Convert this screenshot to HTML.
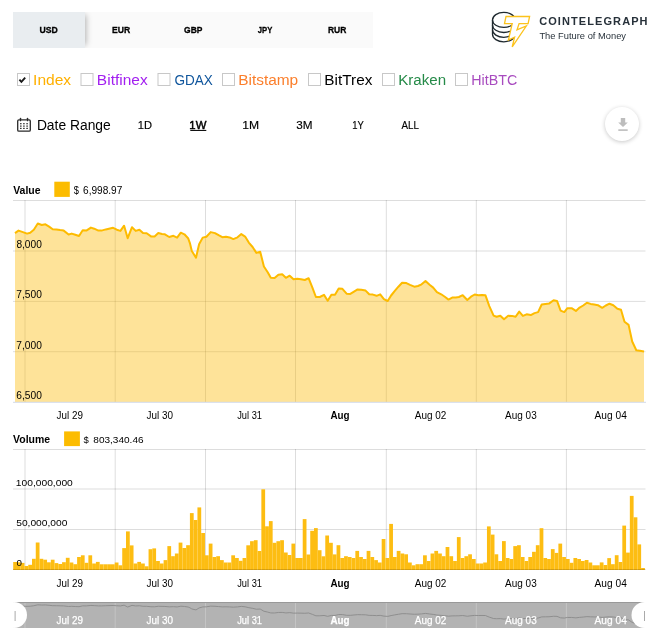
<!DOCTYPE html><html><head><meta charset="utf-8"><style>
html,body{margin:0;padding:0;background:#fff;}
body{width:655px;height:636px;position:relative;overflow:hidden;font-family:"Liberation Sans", sans-serif;}
.abs{position:absolute;}
</style></head><body>
<div class="abs" style="left:13px;top:12px;width:360px;height:36px;background:#fafafa;"></div>
<div class="abs" style="left:13px;top:12px;width:100px;height:36px;overflow:hidden;"><div class="abs" style="left:0;top:0;width:72px;height:36px;background:#e9edf0;box-shadow:4px 0 6px -3px rgba(0,0,0,0.3);"></div></div>
<div class="abs" style="left:605.3px;top:107.4px;width:33.8px;height:33.8px;border-radius:50%;background:#fff;box-shadow:0 1px 4px rgba(0,0,0,0.22);"></div>
<svg class="abs" style="left:0;top:0" width="655" height="636" viewBox="0 0 655 636" font-family='"Liberation Sans", sans-serif'>
<g fill="none" stroke="#1f292f" stroke-width="1.3">
<ellipse cx="503.8" cy="19.9" rx="11.3" ry="7.5"/>
<path d="M492.5 19.9V34.3A11.3 7.5 0 0 0 515.1 34.3V19.9"/>
<path d="M492.5 25.0A11.3 7.5 0 0 0 515.1 25.0"/>
<path d="M492.5 29.8A11.3 7.5 0 0 0 515.1 29.8"/>
</g>
<path d="M506 16.5L529.6 16.5L528.1 23.6L519.1 23.6L517 29.9L526.3 26L512.2 46.9L514.6 37.1L508.4 40.1L512.2 23.6L504.5 23.6Z" fill="#fff" stroke="#fcc21b" stroke-width="1.3" stroke-linejoin="miter"/>
<rect x="17.5" y="73.5" width="12" height="12" fill="#fff" stroke="#c8c8c8" stroke-width="1"/>
<rect x="81.0" y="73.5" width="12" height="12" fill="#fff" stroke="#c8c8c8" stroke-width="1"/>
<rect x="158.0" y="73.5" width="12" height="12" fill="#fff" stroke="#c8c8c8" stroke-width="1"/>
<rect x="222.5" y="73.5" width="12" height="12" fill="#fff" stroke="#c8c8c8" stroke-width="1"/>
<rect x="308.5" y="73.5" width="12" height="12" fill="#fff" stroke="#c8c8c8" stroke-width="1"/>
<rect x="382.5" y="73.5" width="12" height="12" fill="#fff" stroke="#c8c8c8" stroke-width="1"/>
<rect x="455.5" y="73.5" width="12" height="12" fill="#fff" stroke="#c8c8c8" stroke-width="1"/>
<path d="M19.4 79.7 L21.4 81.8 L25.2 77.7" fill="none" stroke="#1a1a1a" stroke-width="1.9"/>
<rect x="190.3" y="129.9" width="16" height="1.1" fill="#111"/>
<rect x="17.7" y="119.8" width="12.6" height="11.4" rx="1.2" fill="none" stroke="#2a2a2a" stroke-width="1.3"/>
<rect x="19.9" y="117.7" width="1.2" height="3.6" rx="0.5" fill="#2a2a2a"/><rect x="26.9" y="117.7" width="1.2" height="3.6" rx="0.5" fill="#2a2a2a"/>
<rect x="20.0" y="123.1" width="1.6" height="1.2" fill="#333"/>
<rect x="20.0" y="125.5" width="1.6" height="1.2" fill="#333"/>
<rect x="20.0" y="127.8" width="1.6" height="1.2" fill="#333"/>
<rect x="23.1" y="123.1" width="1.6" height="1.2" fill="#333"/>
<rect x="23.1" y="125.5" width="1.6" height="1.2" fill="#333"/>
<rect x="23.1" y="127.8" width="1.6" height="1.2" fill="#333"/>
<rect x="26.3" y="123.1" width="1.6" height="1.2" fill="#333"/>
<rect x="26.3" y="125.5" width="1.6" height="1.2" fill="#333"/>
<rect x="26.3" y="127.8" width="1.6" height="1.2" fill="#333"/>
<path d="M620.8 117.9 h4.4 v4.6 h2.6 l-4.8 4.6 l-4.8 -4.6 h2.6 z" fill="#bdbdbd"/><rect x="618.3" y="129.3" width="9.4" height="1.6" fill="#bdbdbd"/>
<rect x="54.3" y="181.7" width="15.5" height="15.2" fill="#fcbc00"/>
<rect x="64.1" y="431.4" width="15.8" height="14.7" fill="#fcbc00"/>
<line x1="13" y1="200.5" x2="645.5" y2="200.5" stroke="rgba(0,0,0,0.135)" stroke-width="1"/>
<line x1="13" y1="251" x2="645.5" y2="251" stroke="rgba(0,0,0,0.135)" stroke-width="1"/>
<line x1="13" y1="301.4" x2="645.5" y2="301.4" stroke="rgba(0,0,0,0.135)" stroke-width="1"/>
<line x1="13" y1="351.7" x2="645.5" y2="351.7" stroke="rgba(0,0,0,0.135)" stroke-width="1"/>
<line x1="25.0" y1="200" x2="25.0" y2="402" stroke="rgba(0,0,0,0.135)" stroke-width="1"/>
<line x1="115.2" y1="200" x2="115.2" y2="402" stroke="rgba(0,0,0,0.135)" stroke-width="1"/>
<line x1="205.5" y1="200" x2="205.5" y2="402" stroke="rgba(0,0,0,0.135)" stroke-width="1"/>
<line x1="295.5" y1="200" x2="295.5" y2="402" stroke="rgba(0,0,0,0.135)" stroke-width="1"/>
<line x1="386.3" y1="200" x2="386.3" y2="402" stroke="rgba(0,0,0,0.135)" stroke-width="1"/>
<line x1="476.3" y1="200" x2="476.3" y2="402" stroke="rgba(0,0,0,0.135)" stroke-width="1"/>
<line x1="566.4" y1="200" x2="566.4" y2="402" stroke="rgba(0,0,0,0.135)" stroke-width="1"/>
<polygon points="15,402 15.0,233.1 18.5,230.6 22.2,231.9 27.1,233.6 30.2,232.7 33.8,229.7 37.8,223.5 41.8,225.0 45.4,224.3 49.1,226.6 52.7,229.3 56.4,229.4 60.1,230.1 63.7,230.6 68.6,234.5 71.7,233.6 75.3,234.8 79.0,236.0 82.7,230.3 86.3,230.6 90.9,227.6 94.2,228.7 98.4,230.6 101.5,230.6 105.8,229.4 113.1,227.8 116.8,229.7 120.4,230.9 124.1,225.7 127.7,238.2 132.0,227.2 135.7,230.9 139.4,229.7 143.0,233.1 146.7,233.3 151.0,236.4 154.6,236.6 158.3,233.1 162.0,233.9 164.9,234.3 169.2,237.0 173.4,235.8 177.1,237.6 180.8,232.7 184.4,234.3 188.1,238.2 189.9,243.1 191.8,251.0 196.0,257.7 199.1,244.3 202.7,237.6 206.4,236.7 210.7,232.1 215.0,233.1 218.6,235.2 222.3,237.2 226.0,236.7 229.6,237.4 233.3,239.1 237.5,237.3 241.3,234.1 245.1,236.6 248.8,242.6 252.6,247.0 256.4,252.9 260.2,251.7 263.9,266.5 267.7,272.2 270.8,277.8 274.6,278.1 278.4,274.7 282.2,274.3 285.9,277.8 289.7,275.7 293.5,279.3 297.3,278.8 301.0,279.3 304.8,280.0 308.6,278.2 312.4,287.6 315.9,297.0 319.8,297.0 324.0,294.9 327.7,300.7 331.4,294.7 335.0,294.7 338.7,288.5 342.4,288.8 346.6,293.7 350.3,293.9 354.0,291.6 357.6,289.4 361.3,289.8 365.6,290.6 369.2,294.3 372.9,294.6 376.6,295.8 380.2,294.3 383.9,299.2 387.7,301.0 391.1,295.5 394.8,290.9 398.4,286.7 402.1,282.7 406.4,283.1 410.0,284.9 414.3,286.7 418.0,286.0 421.6,284.3 425.5,281.1 429.6,284.8 433.2,287.6 436.9,292.1 441.2,294.3 444.8,296.8 448.5,299.6 452.2,297.6 455.8,297.4 458.9,297.0 462.7,295.2 467.3,300.0 471.0,296.7 474.7,294.5 478.3,295.2 482.0,294.9 485.4,295.2 489.3,306.1 493.6,315.6 496.6,316.8 500.3,315.7 504.0,319.2 508.2,315.7 511.9,315.9 515.6,316.8 519.2,311.6 522.9,315.9 526.6,314.3 530.8,315.1 534.5,313.1 538.1,312.1 541.7,304.5 545.4,303.9 549.0,303.6 553.6,300.3 557.0,300.9 560.6,310.6 564.3,312.1 567.4,308.2 571.6,308.2 575.9,310.9 579.6,307.6 583.2,305.5 586.9,302.7 590.6,303.9 594.2,304.5 597.9,305.2 602.2,307.8 605.8,305.5 609.5,303.7 613.3,305.2 617.4,308.8 621.0,309.8 624.5,321.8 628.6,324.9 632.2,341.5 636.3,350.2 639.9,350.7 644.0,351.5 644,402" fill="rgba(252,185,0,0.4)"/>
<polyline points="15.0,233.1 18.5,230.6 22.2,231.9 27.1,233.6 30.2,232.7 33.8,229.7 37.8,223.5 41.8,225.0 45.4,224.3 49.1,226.6 52.7,229.3 56.4,229.4 60.1,230.1 63.7,230.6 68.6,234.5 71.7,233.6 75.3,234.8 79.0,236.0 82.7,230.3 86.3,230.6 90.9,227.6 94.2,228.7 98.4,230.6 101.5,230.6 105.8,229.4 113.1,227.8 116.8,229.7 120.4,230.9 124.1,225.7 127.7,238.2 132.0,227.2 135.7,230.9 139.4,229.7 143.0,233.1 146.7,233.3 151.0,236.4 154.6,236.6 158.3,233.1 162.0,233.9 164.9,234.3 169.2,237.0 173.4,235.8 177.1,237.6 180.8,232.7 184.4,234.3 188.1,238.2 189.9,243.1 191.8,251.0 196.0,257.7 199.1,244.3 202.7,237.6 206.4,236.7 210.7,232.1 215.0,233.1 218.6,235.2 222.3,237.2 226.0,236.7 229.6,237.4 233.3,239.1 237.5,237.3 241.3,234.1 245.1,236.6 248.8,242.6 252.6,247.0 256.4,252.9 260.2,251.7 263.9,266.5 267.7,272.2 270.8,277.8 274.6,278.1 278.4,274.7 282.2,274.3 285.9,277.8 289.7,275.7 293.5,279.3 297.3,278.8 301.0,279.3 304.8,280.0 308.6,278.2 312.4,287.6 315.9,297.0 319.8,297.0 324.0,294.9 327.7,300.7 331.4,294.7 335.0,294.7 338.7,288.5 342.4,288.8 346.6,293.7 350.3,293.9 354.0,291.6 357.6,289.4 361.3,289.8 365.6,290.6 369.2,294.3 372.9,294.6 376.6,295.8 380.2,294.3 383.9,299.2 387.7,301.0 391.1,295.5 394.8,290.9 398.4,286.7 402.1,282.7 406.4,283.1 410.0,284.9 414.3,286.7 418.0,286.0 421.6,284.3 425.5,281.1 429.6,284.8 433.2,287.6 436.9,292.1 441.2,294.3 444.8,296.8 448.5,299.6 452.2,297.6 455.8,297.4 458.9,297.0 462.7,295.2 467.3,300.0 471.0,296.7 474.7,294.5 478.3,295.2 482.0,294.9 485.4,295.2 489.3,306.1 493.6,315.6 496.6,316.8 500.3,315.7 504.0,319.2 508.2,315.7 511.9,315.9 515.6,316.8 519.2,311.6 522.9,315.9 526.6,314.3 530.8,315.1 534.5,313.1 538.1,312.1 541.7,304.5 545.4,303.9 549.0,303.6 553.6,300.3 557.0,300.9 560.6,310.6 564.3,312.1 567.4,308.2 571.6,308.2 575.9,310.9 579.6,307.6 583.2,305.5 586.9,302.7 590.6,303.9 594.2,304.5 597.9,305.2 602.2,307.8 605.8,305.5 609.5,303.7 613.3,305.2 617.4,308.8 621.0,309.8 624.5,321.8 628.6,324.9 632.2,341.5 636.3,350.2 639.9,350.7 644.0,351.5" fill="none" stroke="#fdbb00" stroke-width="2" stroke-linejoin="round"/>
<line x1="13" y1="402.3" x2="646" y2="402.3" stroke="#d3dae8" stroke-width="1"/>
<line x1="13" y1="449.5" x2="645.5" y2="449.5" stroke="rgba(0,0,0,0.135)" stroke-width="1"/>
<line x1="13" y1="489.0" x2="645.5" y2="489.0" stroke="rgba(0,0,0,0.135)" stroke-width="1"/>
<line x1="13" y1="529.5" x2="645.5" y2="529.5" stroke="rgba(0,0,0,0.135)" stroke-width="1"/>
<line x1="25.0" y1="449" x2="25.0" y2="569" stroke="rgba(0,0,0,0.135)" stroke-width="1"/>
<line x1="115.2" y1="449" x2="115.2" y2="569" stroke="rgba(0,0,0,0.135)" stroke-width="1"/>
<line x1="205.5" y1="449" x2="205.5" y2="569" stroke="rgba(0,0,0,0.135)" stroke-width="1"/>
<line x1="295.5" y1="449" x2="295.5" y2="569" stroke="rgba(0,0,0,0.135)" stroke-width="1"/>
<line x1="386.3" y1="449" x2="386.3" y2="569" stroke="rgba(0,0,0,0.135)" stroke-width="1"/>
<line x1="476.3" y1="449" x2="476.3" y2="569" stroke="rgba(0,0,0,0.135)" stroke-width="1"/>
<line x1="566.4" y1="449" x2="566.4" y2="569" stroke="rgba(0,0,0,0.135)" stroke-width="1"/>
<rect x="13.20" y="562.0" width="3.76" height="8.0" fill="#fdbd12"/>
<rect x="16.96" y="562.3" width="3.76" height="7.7" fill="#fdbd12"/>
<rect x="20.72" y="562.9" width="3.76" height="7.1" fill="#fdbd12"/>
<rect x="24.48" y="566.0" width="3.76" height="4.0" fill="#fdbd12"/>
<rect x="28.24" y="564.8" width="3.76" height="5.2" fill="#fdbd12"/>
<rect x="32.00" y="558.8" width="3.76" height="11.2" fill="#fdbd12"/>
<rect x="35.76" y="542.5" width="3.76" height="27.5" fill="#fdbd12"/>
<rect x="39.52" y="558.8" width="3.76" height="11.2" fill="#fdbd12"/>
<rect x="43.28" y="559.7" width="3.76" height="10.3" fill="#fdbd12"/>
<rect x="47.04" y="562.3" width="3.76" height="7.7" fill="#fdbd12"/>
<rect x="50.80" y="559.7" width="3.76" height="10.3" fill="#fdbd12"/>
<rect x="54.56" y="563.1" width="3.76" height="6.9" fill="#fdbd12"/>
<rect x="58.32" y="564.0" width="3.76" height="6.0" fill="#fdbd12"/>
<rect x="62.08" y="562.2" width="3.76" height="7.8" fill="#fdbd12"/>
<rect x="65.84" y="557.8" width="3.76" height="12.2" fill="#fdbd12"/>
<rect x="69.60" y="562.5" width="3.76" height="7.5" fill="#fdbd12"/>
<rect x="73.36" y="564.2" width="3.76" height="5.8" fill="#fdbd12"/>
<rect x="77.12" y="557.0" width="3.76" height="13.0" fill="#fdbd12"/>
<rect x="80.88" y="555.3" width="3.76" height="14.7" fill="#fdbd12"/>
<rect x="84.64" y="562.8" width="3.76" height="7.2" fill="#fdbd12"/>
<rect x="88.40" y="555.3" width="3.76" height="14.7" fill="#fdbd12"/>
<rect x="92.16" y="563.5" width="3.76" height="6.5" fill="#fdbd12"/>
<rect x="95.92" y="561.9" width="3.76" height="8.1" fill="#fdbd12"/>
<rect x="99.68" y="564.3" width="3.76" height="5.7" fill="#fdbd12"/>
<rect x="103.44" y="564.3" width="3.76" height="5.7" fill="#fdbd12"/>
<rect x="107.20" y="564.3" width="3.76" height="5.7" fill="#fdbd12"/>
<rect x="110.96" y="564.3" width="3.76" height="5.7" fill="#fdbd12"/>
<rect x="114.72" y="562.5" width="3.76" height="7.5" fill="#fdbd12"/>
<rect x="118.48" y="565.3" width="3.76" height="4.7" fill="#fdbd12"/>
<rect x="122.24" y="548.1" width="3.76" height="21.9" fill="#fdbd12"/>
<rect x="126.00" y="531.4" width="3.76" height="38.6" fill="#fdbd12"/>
<rect x="129.76" y="545.4" width="3.76" height="24.6" fill="#fdbd12"/>
<rect x="133.52" y="563.5" width="3.76" height="6.5" fill="#fdbd12"/>
<rect x="137.28" y="561.9" width="3.76" height="8.1" fill="#fdbd12"/>
<rect x="141.04" y="563.5" width="3.76" height="6.5" fill="#fdbd12"/>
<rect x="144.80" y="566.3" width="3.76" height="3.7" fill="#fdbd12"/>
<rect x="148.56" y="549.2" width="3.76" height="20.8" fill="#fdbd12"/>
<rect x="152.32" y="548.4" width="3.76" height="21.6" fill="#fdbd12"/>
<rect x="156.08" y="561.0" width="3.76" height="9.0" fill="#fdbd12"/>
<rect x="159.84" y="563.5" width="3.76" height="6.5" fill="#fdbd12"/>
<rect x="163.60" y="560.1" width="3.76" height="9.9" fill="#fdbd12"/>
<rect x="167.36" y="546.1" width="3.76" height="23.9" fill="#fdbd12"/>
<rect x="171.12" y="556.2" width="3.76" height="13.8" fill="#fdbd12"/>
<rect x="174.88" y="553.5" width="3.76" height="16.5" fill="#fdbd12"/>
<rect x="178.64" y="542.6" width="3.76" height="27.4" fill="#fdbd12"/>
<rect x="182.40" y="548.0" width="3.76" height="22.0" fill="#fdbd12"/>
<rect x="186.16" y="545.2" width="3.76" height="24.8" fill="#fdbd12"/>
<rect x="189.92" y="513.1" width="3.76" height="56.9" fill="#fdbd12"/>
<rect x="193.68" y="520.0" width="3.76" height="50.0" fill="#fdbd12"/>
<rect x="197.44" y="507.4" width="3.76" height="62.6" fill="#fdbd12"/>
<rect x="201.20" y="533.0" width="3.76" height="37.0" fill="#fdbd12"/>
<rect x="204.96" y="555.3" width="3.76" height="14.7" fill="#fdbd12"/>
<rect x="208.72" y="543.6" width="3.76" height="26.4" fill="#fdbd12"/>
<rect x="212.48" y="557.0" width="3.76" height="13.0" fill="#fdbd12"/>
<rect x="216.24" y="556.2" width="3.76" height="13.8" fill="#fdbd12"/>
<rect x="220.00" y="560.1" width="3.76" height="9.9" fill="#fdbd12"/>
<rect x="223.76" y="562.5" width="3.76" height="7.5" fill="#fdbd12"/>
<rect x="227.52" y="562.5" width="3.76" height="7.5" fill="#fdbd12"/>
<rect x="231.28" y="555.3" width="3.76" height="14.7" fill="#fdbd12"/>
<rect x="235.04" y="558.0" width="3.76" height="12.0" fill="#fdbd12"/>
<rect x="238.80" y="560.8" width="3.76" height="9.2" fill="#fdbd12"/>
<rect x="242.56" y="558.0" width="3.76" height="12.0" fill="#fdbd12"/>
<rect x="246.32" y="545.3" width="3.76" height="24.7" fill="#fdbd12"/>
<rect x="250.08" y="541.2" width="3.76" height="28.8" fill="#fdbd12"/>
<rect x="253.84" y="540.2" width="3.76" height="29.8" fill="#fdbd12"/>
<rect x="257.60" y="551.0" width="3.76" height="19.0" fill="#fdbd12"/>
<rect x="261.36" y="489.3" width="3.76" height="80.7" fill="#fdbd12"/>
<rect x="265.12" y="526.3" width="3.76" height="43.7" fill="#fdbd12"/>
<rect x="268.88" y="521.1" width="3.76" height="48.9" fill="#fdbd12"/>
<rect x="272.64" y="542.8" width="3.76" height="27.2" fill="#fdbd12"/>
<rect x="276.40" y="541.2" width="3.76" height="28.8" fill="#fdbd12"/>
<rect x="280.16" y="540.2" width="3.76" height="29.8" fill="#fdbd12"/>
<rect x="283.92" y="552.5" width="3.76" height="17.5" fill="#fdbd12"/>
<rect x="287.68" y="555.0" width="3.76" height="15.0" fill="#fdbd12"/>
<rect x="291.44" y="543.6" width="3.76" height="26.4" fill="#fdbd12"/>
<rect x="295.20" y="558.0" width="3.76" height="12.0" fill="#fdbd12"/>
<rect x="298.96" y="558.0" width="3.76" height="12.0" fill="#fdbd12"/>
<rect x="302.72" y="519.1" width="3.76" height="50.9" fill="#fdbd12"/>
<rect x="306.48" y="554.5" width="3.76" height="15.5" fill="#fdbd12"/>
<rect x="310.24" y="530.8" width="3.76" height="39.2" fill="#fdbd12"/>
<rect x="314.00" y="528.1" width="3.76" height="41.9" fill="#fdbd12"/>
<rect x="317.76" y="550.2" width="3.76" height="19.8" fill="#fdbd12"/>
<rect x="321.52" y="556.3" width="3.76" height="13.7" fill="#fdbd12"/>
<rect x="325.28" y="535.5" width="3.76" height="34.5" fill="#fdbd12"/>
<rect x="329.04" y="542.8" width="3.76" height="27.2" fill="#fdbd12"/>
<rect x="332.80" y="554.4" width="3.76" height="15.6" fill="#fdbd12"/>
<rect x="336.56" y="545.2" width="3.76" height="24.8" fill="#fdbd12"/>
<rect x="340.32" y="558.0" width="3.76" height="12.0" fill="#fdbd12"/>
<rect x="344.08" y="556.2" width="3.76" height="13.8" fill="#fdbd12"/>
<rect x="347.84" y="557.0" width="3.76" height="13.0" fill="#fdbd12"/>
<rect x="351.60" y="558.0" width="3.76" height="12.0" fill="#fdbd12"/>
<rect x="355.36" y="550.9" width="3.76" height="19.1" fill="#fdbd12"/>
<rect x="359.12" y="557.0" width="3.76" height="13.0" fill="#fdbd12"/>
<rect x="362.88" y="559.0" width="3.76" height="11.0" fill="#fdbd12"/>
<rect x="366.64" y="550.9" width="3.76" height="19.1" fill="#fdbd12"/>
<rect x="370.40" y="557.0" width="3.76" height="13.0" fill="#fdbd12"/>
<rect x="374.16" y="560.1" width="3.76" height="9.9" fill="#fdbd12"/>
<rect x="377.92" y="562.5" width="3.76" height="7.5" fill="#fdbd12"/>
<rect x="381.68" y="539.0" width="3.76" height="31.0" fill="#fdbd12"/>
<rect x="385.44" y="558.0" width="3.76" height="12.0" fill="#fdbd12"/>
<rect x="389.20" y="523.9" width="3.76" height="46.1" fill="#fdbd12"/>
<rect x="392.96" y="557.0" width="3.76" height="13.0" fill="#fdbd12"/>
<rect x="396.72" y="550.9" width="3.76" height="19.1" fill="#fdbd12"/>
<rect x="400.48" y="553.5" width="3.76" height="16.5" fill="#fdbd12"/>
<rect x="404.24" y="554.3" width="3.76" height="15.7" fill="#fdbd12"/>
<rect x="408.00" y="562.5" width="3.76" height="7.5" fill="#fdbd12"/>
<rect x="411.76" y="565.3" width="3.76" height="4.7" fill="#fdbd12"/>
<rect x="415.52" y="564.2" width="3.76" height="5.8" fill="#fdbd12"/>
<rect x="419.28" y="564.2" width="3.76" height="5.8" fill="#fdbd12"/>
<rect x="423.04" y="555.3" width="3.76" height="14.7" fill="#fdbd12"/>
<rect x="426.80" y="561.0" width="3.76" height="9.0" fill="#fdbd12"/>
<rect x="430.56" y="553.5" width="3.76" height="16.5" fill="#fdbd12"/>
<rect x="434.32" y="550.9" width="3.76" height="19.1" fill="#fdbd12"/>
<rect x="438.08" y="553.5" width="3.76" height="16.5" fill="#fdbd12"/>
<rect x="441.84" y="556.2" width="3.76" height="13.8" fill="#fdbd12"/>
<rect x="445.60" y="547.0" width="3.76" height="23.0" fill="#fdbd12"/>
<rect x="449.36" y="556.2" width="3.76" height="13.8" fill="#fdbd12"/>
<rect x="453.12" y="561.0" width="3.76" height="9.0" fill="#fdbd12"/>
<rect x="456.88" y="537.1" width="3.76" height="32.9" fill="#fdbd12"/>
<rect x="460.64" y="558.0" width="3.76" height="12.0" fill="#fdbd12"/>
<rect x="464.40" y="556.2" width="3.76" height="13.8" fill="#fdbd12"/>
<rect x="468.16" y="554.3" width="3.76" height="15.7" fill="#fdbd12"/>
<rect x="471.92" y="559.0" width="3.76" height="11.0" fill="#fdbd12"/>
<rect x="475.68" y="563.5" width="3.76" height="6.5" fill="#fdbd12"/>
<rect x="479.44" y="563.5" width="3.76" height="6.5" fill="#fdbd12"/>
<rect x="483.20" y="562.5" width="3.76" height="7.5" fill="#fdbd12"/>
<rect x="486.96" y="526.4" width="3.76" height="43.6" fill="#fdbd12"/>
<rect x="490.72" y="534.6" width="3.76" height="35.4" fill="#fdbd12"/>
<rect x="494.48" y="554.3" width="3.76" height="15.7" fill="#fdbd12"/>
<rect x="498.24" y="561.0" width="3.76" height="9.0" fill="#fdbd12"/>
<rect x="502.00" y="541.1" width="3.76" height="28.9" fill="#fdbd12"/>
<rect x="505.76" y="558.0" width="3.76" height="12.0" fill="#fdbd12"/>
<rect x="509.52" y="559.0" width="3.76" height="11.0" fill="#fdbd12"/>
<rect x="513.28" y="546.1" width="3.76" height="23.9" fill="#fdbd12"/>
<rect x="517.04" y="545.2" width="3.76" height="24.8" fill="#fdbd12"/>
<rect x="520.80" y="557.0" width="3.76" height="13.0" fill="#fdbd12"/>
<rect x="524.56" y="561.0" width="3.76" height="9.0" fill="#fdbd12"/>
<rect x="528.32" y="557.0" width="3.76" height="13.0" fill="#fdbd12"/>
<rect x="532.08" y="551.8" width="3.76" height="18.2" fill="#fdbd12"/>
<rect x="535.84" y="545.2" width="3.76" height="24.8" fill="#fdbd12"/>
<rect x="539.60" y="528.2" width="3.76" height="41.8" fill="#fdbd12"/>
<rect x="543.36" y="558.0" width="3.76" height="12.0" fill="#fdbd12"/>
<rect x="547.12" y="559.0" width="3.76" height="11.0" fill="#fdbd12"/>
<rect x="550.88" y="549.1" width="3.76" height="20.9" fill="#fdbd12"/>
<rect x="554.64" y="552.9" width="3.76" height="17.1" fill="#fdbd12"/>
<rect x="558.40" y="543.6" width="3.76" height="26.4" fill="#fdbd12"/>
<rect x="562.16" y="557.0" width="3.76" height="13.0" fill="#fdbd12"/>
<rect x="565.92" y="559.0" width="3.76" height="11.0" fill="#fdbd12"/>
<rect x="569.68" y="562.8" width="3.76" height="7.2" fill="#fdbd12"/>
<rect x="573.44" y="558.0" width="3.76" height="12.0" fill="#fdbd12"/>
<rect x="577.20" y="559.0" width="3.76" height="11.0" fill="#fdbd12"/>
<rect x="580.96" y="561.0" width="3.76" height="9.0" fill="#fdbd12"/>
<rect x="584.72" y="560.0" width="3.76" height="10.0" fill="#fdbd12"/>
<rect x="588.48" y="562.5" width="3.76" height="7.5" fill="#fdbd12"/>
<rect x="592.24" y="565.3" width="3.76" height="4.7" fill="#fdbd12"/>
<rect x="596.00" y="565.3" width="3.76" height="4.7" fill="#fdbd12"/>
<rect x="599.76" y="562.4" width="3.76" height="7.6" fill="#fdbd12"/>
<rect x="603.52" y="565.0" width="3.76" height="5.0" fill="#fdbd12"/>
<rect x="607.28" y="558.1" width="3.76" height="11.9" fill="#fdbd12"/>
<rect x="611.04" y="564.2" width="3.76" height="5.8" fill="#fdbd12"/>
<rect x="614.80" y="555.2" width="3.76" height="14.8" fill="#fdbd12"/>
<rect x="618.56" y="562.0" width="3.76" height="8.0" fill="#fdbd12"/>
<rect x="622.32" y="525.6" width="3.76" height="44.4" fill="#fdbd12"/>
<rect x="626.08" y="552.6" width="3.76" height="17.4" fill="#fdbd12"/>
<rect x="629.84" y="495.9" width="3.76" height="74.1" fill="#fdbd12"/>
<rect x="633.60" y="517.3" width="3.76" height="52.7" fill="#fdbd12"/>
<rect x="637.36" y="544.4" width="3.76" height="25.6" fill="#fdbd12"/>
<rect x="641.12" y="568.0" width="3.76" height="2.0" fill="#fdbd12"/>
<rect x="13" y="569" width="632.5" height="1" fill="rgba(70,45,0,0.22)"/>
<rect x="13" y="602" width="632" height="26" fill="#b3b3b3"/>
<rect x="13" y="602" width="632" height="1" fill="#999"/>
<line x1="25.0" y1="603" x2="25.0" y2="628" stroke="#c4c4c4" stroke-width="1"/>
<line x1="115.2" y1="603" x2="115.2" y2="628" stroke="#c4c4c4" stroke-width="1"/>
<line x1="205.5" y1="603" x2="205.5" y2="628" stroke="#c4c4c4" stroke-width="1"/>
<line x1="295.5" y1="603" x2="295.5" y2="628" stroke="#c4c4c4" stroke-width="1"/>
<line x1="386.3" y1="603" x2="386.3" y2="628" stroke="#c4c4c4" stroke-width="1"/>
<line x1="476.3" y1="603" x2="476.3" y2="628" stroke="#c4c4c4" stroke-width="1"/>
<line x1="566.4" y1="603" x2="566.4" y2="628" stroke="#c4c4c4" stroke-width="1"/>
<polyline points="15.0,606.27 18.5,605.90 22.2,606.09 27.1,606.34 30.2,606.21 33.8,605.76 37.8,604.84 41.8,605.06 45.4,604.96 49.1,605.30 52.7,605.70 56.4,605.72 60.1,605.82 63.7,605.90 68.6,606.48 71.7,606.34 75.3,606.52 79.0,606.70 82.7,605.85 86.3,605.90 90.9,605.45 94.2,605.61 98.4,605.90 101.5,605.90 105.8,605.72 113.1,605.48 116.8,605.76 120.4,605.94 124.1,605.17 127.7,607.03 132.0,605.39 135.7,605.94 139.4,605.76 143.0,606.27 146.7,606.30 151.0,606.76 154.6,606.79 158.3,606.27 162.0,606.39 164.9,606.45 169.2,606.85 173.4,606.67 177.1,606.94 180.8,606.21 184.4,606.45 188.1,607.03 189.9,607.76 191.8,608.94 196.0,609.93 199.1,607.94 202.7,606.94 206.4,606.80 210.7,606.12 215.0,606.27 218.6,606.58 222.3,606.88 226.0,606.80 229.6,606.91 233.3,607.16 237.5,606.89 241.3,606.42 245.1,606.79 248.8,607.68 252.6,608.34 256.4,609.22 260.2,609.04 263.9,611.24 267.7,612.09 270.8,612.93 274.6,612.97 278.4,612.47 282.2,612.41 285.9,612.93 289.7,612.62 293.5,613.15 297.3,613.08 301.0,613.15 304.8,613.26 308.6,612.99 312.4,614.39 315.9,615.79 319.8,615.79 324.0,615.48 327.7,616.34 331.4,615.45 335.0,615.45 338.7,614.52 342.4,614.57 346.6,615.30 350.3,615.33 354.0,614.98 357.6,614.66 361.3,614.72 365.6,614.84 369.2,615.39 372.9,615.43 376.6,615.61 380.2,615.39 383.9,616.12 387.7,616.38 391.1,615.57 394.8,614.88 398.4,614.25 402.1,613.66 406.4,613.72 410.0,613.99 414.3,614.25 418.0,614.15 421.6,613.90 425.5,613.42 429.6,613.97 433.2,614.39 436.9,615.06 441.2,615.39 444.8,615.76 448.5,616.18 452.2,615.88 455.8,615.85 458.9,615.79 462.7,615.52 467.3,616.24 471.0,615.74 474.7,615.42 478.3,615.52 482.0,615.48 485.4,615.52 489.3,617.14 493.6,618.56 496.6,618.74 500.3,618.58 504.0,619.10 508.2,618.58 511.9,618.61 515.6,618.74 519.2,617.96 522.9,618.61 526.6,618.37 530.8,618.49 534.5,618.19 538.1,618.04 541.7,616.91 545.4,616.82 549.0,616.77 553.6,616.28 557.0,616.37 560.6,617.82 564.3,618.04 567.4,617.46 571.6,617.46 575.9,617.86 579.6,617.37 583.2,617.06 586.9,616.64 590.6,616.82 594.2,616.91 597.9,617.01 602.2,617.40 605.8,617.06 609.5,616.79 613.3,617.01 617.4,617.55 621.0,617.70 624.5,619.48 628.6,619.95 632.2,622.42 636.3,623.72 639.9,623.79 644.0,623.91" fill="none" stroke="#8a8a8a" stroke-width="0.9"/>
<text x="39.48" y="32.80" font-size="9.29" font-weight="bold" fill="#000" stroke="#000" stroke-width="0.3" textLength="18.28" lengthAdjust="spacingAndGlyphs">USD</text>
<text x="112.00" y="32.80" font-size="9.42" font-weight="bold" fill="#000" stroke="#000" stroke-width="0.3" textLength="18.19" lengthAdjust="spacingAndGlyphs">EUR</text>
<text x="184.06" y="32.80" font-size="9.29" font-weight="bold" fill="#000" stroke="#000" stroke-width="0.3" textLength="18.35" lengthAdjust="spacingAndGlyphs">GBP</text>
<text x="257.75" y="32.80" font-size="9.42" font-weight="bold" fill="#000" stroke="#000" stroke-width="0.3" textLength="14.51" lengthAdjust="spacingAndGlyphs">JPY</text>
<text x="327.90" y="32.80" font-size="9.42" font-weight="bold" fill="#000" stroke="#000" stroke-width="0.3" textLength="18.42" lengthAdjust="spacingAndGlyphs">RUR</text>
<text x="539.16" y="24.70" font-size="11.00" font-weight="bold" fill="#27313a" textLength="108.38" lengthAdjust="spacing">COINTELEGRAPH</text>
<text x="539.41" y="39.00" font-size="9.59" font-weight="normal" fill="#27313a" textLength="86.61" lengthAdjust="spacingAndGlyphs">The Future of Money</text>
<text x="33.10" y="84.80" font-size="14.25" font-weight="normal" fill="#ffb000" textLength="38.06" lengthAdjust="spacingAndGlyphs">Index</text>
<text x="96.86" y="84.80" font-size="14.25" font-weight="normal" fill="#a21ff0" textLength="50.78" lengthAdjust="spacingAndGlyphs">Bitfinex</text>
<text x="174.52" y="84.80" font-size="14.86" font-weight="normal" fill="#0f559c" textLength="38.40" lengthAdjust="spacingAndGlyphs">GDAX</text>
<text x="238.16" y="84.80" font-size="14.25" font-weight="normal" fill="#fb7f2c" textLength="60.05" lengthAdjust="spacingAndGlyphs">Bitstamp</text>
<text x="324.37" y="84.80" font-size="14.25" font-weight="normal" fill="#000" textLength="47.98" lengthAdjust="spacingAndGlyphs">BitTrex</text>
<text x="398.19" y="84.80" font-size="14.25" font-weight="normal" fill="#258a48" textLength="47.84" lengthAdjust="spacingAndGlyphs">Kraken</text>
<text x="471.26" y="84.80" font-size="14.25" font-weight="normal" fill="#a84bbf" textLength="45.94" lengthAdjust="spacingAndGlyphs">HitBTC</text>
<text x="36.89" y="129.90" font-size="14.93" font-weight="normal" fill="#000" textLength="73.86" lengthAdjust="spacingAndGlyphs">Date Range</text>
<text x="137.81" y="129.10" font-size="10.87" font-weight="normal" fill="#000" stroke="#000" stroke-width="0.15" textLength="14.23" lengthAdjust="spacingAndGlyphs">1D</text>
<text x="189.39" y="129.10" font-size="10.87" font-weight="normal" fill="#000" stroke="#000" stroke-width="0.45" textLength="17.02" lengthAdjust="spacingAndGlyphs">1W</text>
<text x="242.33" y="129.10" font-size="10.87" font-weight="normal" fill="#000" stroke="#000" stroke-width="0.15" textLength="16.83" lengthAdjust="spacingAndGlyphs">1M</text>
<text x="296.33" y="129.10" font-size="10.71" font-weight="normal" fill="#000" stroke="#000" stroke-width="0.15" textLength="16.30" lengthAdjust="spacingAndGlyphs">3M</text>
<text x="352.24" y="129.10" font-size="10.87" font-weight="normal" fill="#000" stroke="#000" stroke-width="0.15" textLength="11.58" lengthAdjust="spacingAndGlyphs">1Y</text>
<text x="401.50" y="129.10" font-size="10.87" font-weight="normal" fill="#000" stroke="#000" stroke-width="0.15" textLength="17.39" lengthAdjust="spacingAndGlyphs">ALL</text>
<text x="13.20" y="193.80" font-size="10.55" font-weight="bold" fill="#000" textLength="27.35" lengthAdjust="spacingAndGlyphs">Value</text>
<text x="73.71" y="193.60" font-size="10.27" font-weight="normal" fill="#000" textLength="5.14" lengthAdjust="spacingAndGlyphs">$</text>
<text x="83.10" y="193.60" font-size="10.14" font-weight="normal" fill="#000" textLength="39.23" lengthAdjust="spacingAndGlyphs">6,998.97</text>
<text x="13.10" y="443.00" font-size="10.00" font-weight="bold" fill="#000" textLength="37.10" lengthAdjust="spacingAndGlyphs">Volume</text>
<text x="83.51" y="442.50" font-size="9.19" font-weight="normal" fill="#000" textLength="5.25" lengthAdjust="spacingAndGlyphs">$</text>
<text x="93.30" y="442.50" font-size="9.00" font-weight="normal" fill="#000" textLength="50.25" lengthAdjust="spacingAndGlyphs">803,340.46</text>
<text x="16.39" y="247.70" font-size="10.29" font-weight="normal" fill="#000" textLength="25.44" lengthAdjust="spacingAndGlyphs">8,000</text>
<text x="16.29" y="297.80" font-size="10.29" font-weight="normal" fill="#000" textLength="25.54" lengthAdjust="spacingAndGlyphs">7,500</text>
<text x="16.29" y="349.00" font-size="10.29" font-weight="normal" fill="#000" textLength="25.54" lengthAdjust="spacingAndGlyphs">7,000</text>
<text x="16.29" y="398.90" font-size="10.29" font-weight="normal" fill="#000" textLength="25.54" lengthAdjust="spacingAndGlyphs">6,500</text>
<text x="15.78" y="486.00" font-size="9.86" font-weight="normal" fill="#000" textLength="57.04" lengthAdjust="spacingAndGlyphs">100,000,000</text>
<text x="16.19" y="526.00" font-size="9.86" font-weight="normal" fill="#000" textLength="51.27" lengthAdjust="spacingAndGlyphs">50,000,000</text>
<text x="16.51" y="565.70" font-size="9.86" font-weight="normal" fill="#000" textLength="5.45" lengthAdjust="spacingAndGlyphs">0</text>
<text x="56.60" y="419.20" font-size="10.41" font-weight="normal" fill="#000" textLength="26.28" lengthAdjust="spacingAndGlyphs">Jul 29</text>
<text x="56.60" y="586.60" font-size="10.41" font-weight="normal" fill="#000" textLength="26.28" lengthAdjust="spacingAndGlyphs">Jul 29</text>
<text x="56.60" y="623.80" font-size="10.41" font-weight="normal" fill="#fff" stroke="#fff" stroke-width="0.25" textLength="26.28" lengthAdjust="spacingAndGlyphs">Jul 29</text>
<text x="146.50" y="419.20" font-size="10.41" font-weight="normal" fill="#000" textLength="26.48" lengthAdjust="spacingAndGlyphs">Jul 30</text>
<text x="146.50" y="586.60" font-size="10.41" font-weight="normal" fill="#000" textLength="26.48" lengthAdjust="spacingAndGlyphs">Jul 30</text>
<text x="146.50" y="623.80" font-size="10.41" font-weight="normal" fill="#fff" stroke="#fff" stroke-width="0.25" textLength="26.48" lengthAdjust="spacingAndGlyphs">Jul 30</text>
<text x="237.21" y="419.20" font-size="10.41" font-weight="normal" fill="#000" textLength="24.84" lengthAdjust="spacingAndGlyphs">Jul 31</text>
<text x="237.21" y="586.60" font-size="10.41" font-weight="normal" fill="#000" textLength="24.84" lengthAdjust="spacingAndGlyphs">Jul 31</text>
<text x="237.21" y="623.80" font-size="10.41" font-weight="normal" fill="#fff" stroke="#fff" stroke-width="0.25" textLength="24.84" lengthAdjust="spacingAndGlyphs">Jul 31</text>
<text x="330.50" y="419.20" font-size="11.01" font-weight="bold" fill="#000" textLength="19.12" lengthAdjust="spacingAndGlyphs">Aug</text>
<text x="330.50" y="586.60" font-size="11.01" font-weight="bold" fill="#000" textLength="19.12" lengthAdjust="spacingAndGlyphs">Aug</text>
<text x="330.50" y="623.80" font-size="11.01" font-weight="bold" fill="#fff" stroke="#fff" stroke-width="0.25" textLength="19.12" lengthAdjust="spacingAndGlyphs">Aug</text>
<text x="414.80" y="419.20" font-size="10.86" font-weight="normal" fill="#000" textLength="31.59" lengthAdjust="spacingAndGlyphs">Aug 02</text>
<text x="414.80" y="586.60" font-size="10.86" font-weight="normal" fill="#000" textLength="31.59" lengthAdjust="spacingAndGlyphs">Aug 02</text>
<text x="414.80" y="623.80" font-size="10.86" font-weight="normal" fill="#fff" stroke="#fff" stroke-width="0.25" textLength="31.59" lengthAdjust="spacingAndGlyphs">Aug 02</text>
<text x="505.10" y="419.20" font-size="10.86" font-weight="normal" fill="#000" textLength="31.59" lengthAdjust="spacingAndGlyphs">Aug 03</text>
<text x="505.10" y="586.60" font-size="10.86" font-weight="normal" fill="#000" textLength="31.59" lengthAdjust="spacingAndGlyphs">Aug 03</text>
<text x="505.10" y="623.80" font-size="10.86" font-weight="normal" fill="#fff" stroke="#fff" stroke-width="0.25" textLength="31.59" lengthAdjust="spacingAndGlyphs">Aug 03</text>
<text x="594.60" y="419.20" font-size="10.86" font-weight="normal" fill="#000" textLength="32.20" lengthAdjust="spacingAndGlyphs">Aug 04</text>
<text x="594.60" y="586.60" font-size="10.86" font-weight="normal" fill="#000" textLength="32.20" lengthAdjust="spacingAndGlyphs">Aug 04</text>
<text x="594.60" y="623.80" font-size="10.86" font-weight="normal" fill="#fff" stroke="#fff" stroke-width="0.25" textLength="32.20" lengthAdjust="spacingAndGlyphs">Aug 04</text>
<circle cx="14" cy="615" r="13" fill="#fff"/><rect x="14.6" y="611" width="1" height="10" fill="#aaa"/>
<circle cx="644.5" cy="615" r="13" fill="#fff"/><rect x="644" y="611" width="1" height="10" fill="#aaa"/>
</svg>
</body></html>
